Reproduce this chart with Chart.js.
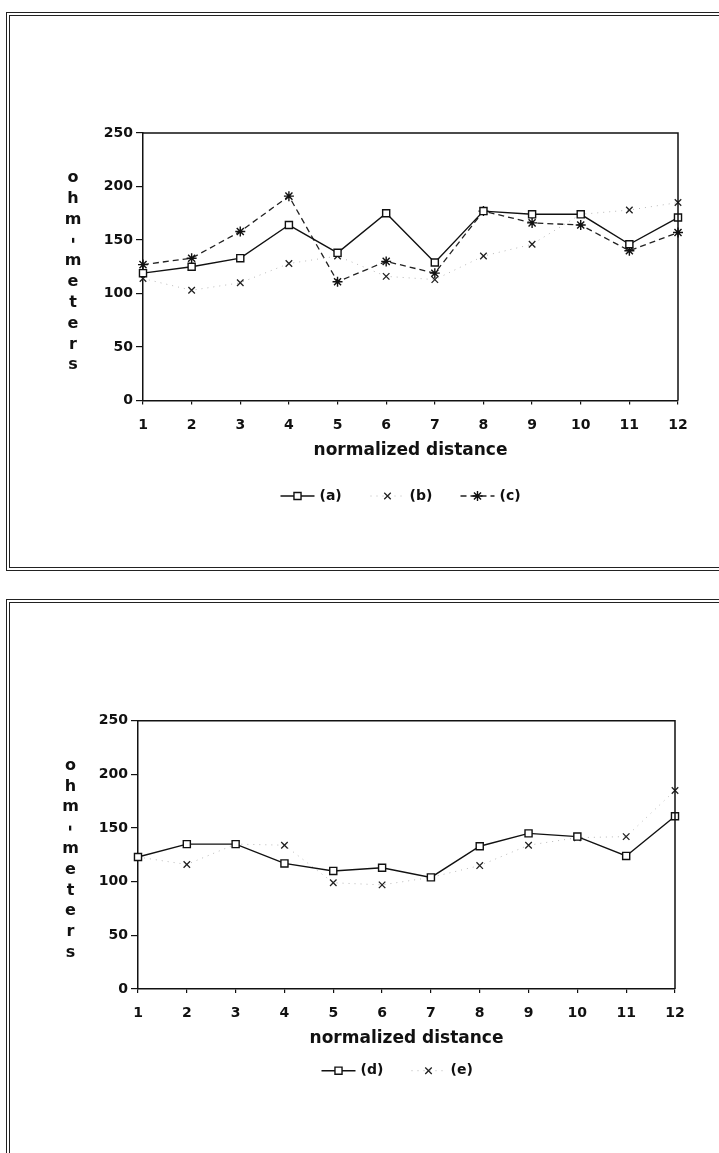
<!DOCTYPE html>
<html>
<head>
<meta charset="utf-8">
<script src="https://cdn.jsdelivr.net/npm/chart.js@4"></script>
<style>
  html, body { margin: 0; padding: 0; background: #fff; }
  body { position: relative; width: 719px; height: 1153px; overflow: hidden; }
  .frame { position: absolute; border: 4px double #222; }
  #frameTop { left: 6px; top: 12px; width: 760px; height: 551px; }
  #frameBottom { left: 6px; top: 599px; width: 760px; height: 700px; }
  canvas { position: absolute; left: 0; }
  #chartTop { top: 0; }
  #chartBottom { top: 590px; }
</style>
</head>
<body>
<div class="frame" id="frameTop"></div>
<div class="frame" id="frameBottom"></div>
<canvas id="chartTop" width="719" height="590"></canvas>
<canvas id="chartBottom" width="719" height="563"></canvas>
<script>
// values (resistivity vs normalized distance)
const distance = ['1', '2', '3', '4', '5', '6', '7', '8', '9', '10', '11', '12'];
const seriesA = [119, 125, 133, 164, 138, 175, 129, 177, 174, 174, 146, 171];
const seriesB = [114, 103, 110, 128, 135, 116, 113, 135, 146, 174, 178, 185];
const seriesC = [127, 133, 158, 191, 111, 130, 119, 177, 166, 164, 140, 157];
const seriesD = [123, 135, 135, 117, 110, 113, 104, 133, 145, 142, 124, 161];
const seriesE = [123, 116, 135, 134, 99, 97, 104, 115, 134, 141, 142, 185];
const yTitle = 'ohm-meters';
const xTitle = 'normalized distance';

const INK = '#111';
const FAMILY = '"DejaVu Sans", "Liberation Sans", sans-serif';

// line styles used in the figure
function solidSquares(label, data) {
  return {
    label, data, borderColor: INK, borderWidth: 1.4, tension: 0,
    pointStyle: 'rect', pointRadius: 5, pointBackgroundColor: '#fff',
    pointBorderColor: INK, pointBorderWidth: 1.4, clip: false,
  };
}
function dottedCrosses(label, data) {
  return {
    label, data, borderColor: '#b8b8b8', borderWidth: 1, borderDash: [1, 5], tension: 0,
    pointStyle: 'crossRot', pointRadius: 4.6, pointBackgroundColor: '#fff',
    pointBorderColor: '#222', pointBorderWidth: 1.3, clip: false,
  };
}
function dashedStars(label, data) {
  return {
    label, data, borderColor: '#222', borderWidth: 1.3, borderDash: [6, 4], tension: 0,
    pointStyle: 'star', pointRadius: 5, pointBackgroundColor: '#fff',
    pointBorderColor: INK, pointBorderWidth: 1.4, clip: false,
  };
}

// box top/right edge, stacked y title, and the line+marker legend under the axis
const paperPlugin = {
  id: 'paper',
  afterDraw(chart, args, opts) {
    const { ctx, chartArea: a } = chart;
    ctx.save();
    ctx.strokeStyle = INK;
    ctx.lineWidth = 1.5;
    ctx.beginPath();
    ctx.moveTo(a.left, a.top);
    ctx.lineTo(a.right, a.top);
    ctx.lineTo(a.right, a.bottom);
    ctx.stroke();

    ctx.fillStyle = INK;
    ctx.font = 'bold 16px ' + FAMILY;
    ctx.textAlign = 'center';
    ctx.textBaseline = 'middle';
    yTitle.split('').forEach((ch, i) => {
      const x = a.left - opts.titleGap;
      const y = a.top + 45 + i * 20.8;
      if (ch === '-') {
        ctx.save();
        ctx.translate(x, y);
        ctx.rotate(Math.PI / 2);
        ctx.fillText(ch, 0, 0);
        ctx.restore();
      } else {
        ctx.fillText(ch, x, y);
      }
    });

    const sets = chart.data.datasets;
    const cx = (a.left + a.right) / 2;
    const ly = a.bottom + opts.legendOffset;
    ctx.font = 'bold 14px ' + FAMILY;
    ctx.textAlign = 'left';
    sets.forEach((ds, i) => {
      const c = cx + (i - (sets.length - 1) / 2) * 90;
      const mx = c - 23;
      ctx.save();
      ctx.strokeStyle = ds.borderColor;
      ctx.lineWidth = ds.borderWidth;
      ctx.setLineDash(ds.borderDash || []);
      ctx.beginPath();
      ctx.moveTo(mx - 17, ly);
      ctx.lineTo(mx + 17, ly);
      ctx.stroke();
      ctx.restore();

      ctx.save();
      ctx.fillStyle = ds.pointBackgroundColor;
      ctx.strokeStyle = ds.pointBorderColor;
      ctx.lineWidth = ds.pointBorderWidth;
      Chart.helpers.drawPoint(ctx, {
        pointStyle: ds.pointStyle, radius: ds.pointRadius,
        borderWidth: ds.pointBorderWidth, rotation: 0,
      }, mx, ly);
      ctx.restore();

      ctx.fillStyle = INK;
      ctx.fillText(ds.label, c - 1, ly);
    });
    ctx.restore();
  },
};

function makeChart(id, datasets, geo) {
  const tickFont = { family: FAMILY, size: 14, weight: 'bold' };
  return new Chart(document.getElementById(id), {
    type: 'line',
    data: { labels: distance, datasets },
    plugins: [paperPlugin],
    options: {
      responsive: false,
      animation: false,
      events: [],
      layout: { padding: { left: 0, right: geo.right, top: geo.top, bottom: geo.bottom } },
      plugins: {
        legend: { display: false },
        tooltip: { enabled: false },
        paper: { legendOffset: geo.legendOffset, titleGap: geo.titleGap },
      },
      scales: {
        x: {
          type: 'category',
          offset: false,
          grid: { drawOnChartArea: false, drawTicks: true, tickLength: 4, color: INK, lineWidth: 1.2 },
          border: { display: true, color: INK, width: 1.5 },
          ticks: { color: INK, font: tickFont, padding: geo.tickPad, autoSkip: false, maxRotation: 0 },
          title: {
            display: true, text: xTitle, color: INK,
            font: { family: FAMILY, size: 17, weight: 'bold' },
            padding: { top: 0, bottom: geo.titlePad },
          },
          afterFit: (s) => { s.height = 70; },
        },
        y: {
          min: 0,
          max: 250,
          grid: { drawOnChartArea: false, drawTicks: true, tickLength: 7, color: INK, lineWidth: 1.2 },
          border: { display: true, color: INK, width: 1.5 },
          ticks: { stepSize: 50, color: INK, font: tickFont, padding: 3 },
          afterFit: (s) => { s.width = geo.axisLeft; },
        },
      },
    },
  });
}

makeChart('chartTop', [
  solidSquares('(a)', seriesA),
  dottedCrosses('(b)', seriesB),
  dashedStars('(c)', seriesC),
], { axisLeft: 143, right: 41, top: 133, bottom: 119.5, tickPad: 12, titlePad: 10, legendOffset: 95.5, titleGap: 70 });

makeChart('chartBottom', [
  solidSquares('(d)', seriesD),
  dottedCrosses('(e)', seriesE),
], { axisLeft: 138, right: 44, top: 130.7, bottom: 94, tickPad: 11.5, titlePad: 10.5, legendOffset: 81.7, titleGap: 67.5 });
</script>
</body>
</html>
